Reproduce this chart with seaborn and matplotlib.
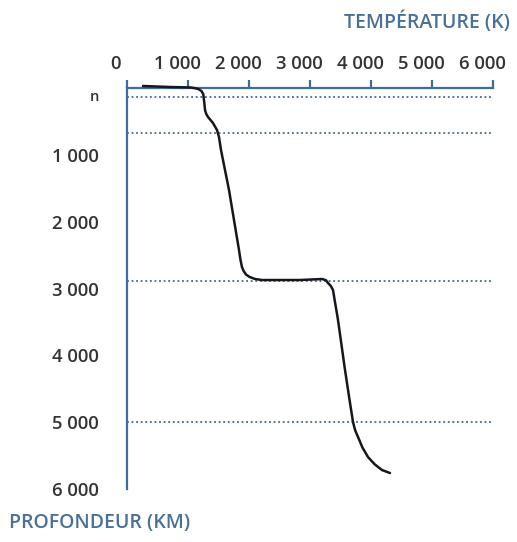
import numpy as np
import pandas as pd
import matplotlib
matplotlib.use("Agg")
import matplotlib.pyplot as plt
import matplotlib.transforms as mtransforms
import seaborn as sns

# Geotherm: temperature (K) against depth (km)
temperature = [262, 705, 1040, 1100, 1170, 1220, 1250, 1262, 1272, 1279, 1300,
               1328, 1370, 1410, 1475, 1508, 1541, 1672, 1836, 1860, 1885,
               1910, 1950, 2010, 2100, 2213, 2836, 3197, 3260, 3295, 3340, 3377,
               3459, 3574, 3656, 3705, 3740, 3787, 3860, 3951, 4060, 4180, 4311]
depth = [-30, -15, -8, 0, 15, 45, 90, 180, 260, 330, 390,
         434, 480, 524, 628, 733, 928, 1526, 2424, 2570, 2680,
         2735, 2790, 2828, 2858, 2873, 2873, 2858, 2875, 2918, 2960, 3023,
         3471, 4220, 4713, 4998, 5120, 5222, 5380, 5522, 5630, 5716, 5761]

# Boundaries between layers (km)
boundaries = [135, 670, 2890, 5000]

x_ticks = [0, 1000, 2000, 3000, 4000, 5000, 6000]
x_labels = ["0", "1 000", "2 000", "3 000", "4 000", "5 000", "6 000"]
y_ticks = [1000, 2000, 3000, 4000, 5000, 6000]
y_labels = ["1 000", "2 000", "3 000", "4 000", "5 000", "6 000"]

x_title = "TEMPÉRATURE (K)"
y_title = "PROFONDEUR (KM)"

sns.set_style("white")
plt.rcParams["font.family"] = ["Open Sans", "DejaVu Sans"]

AXIS = "#3f6d99"
TITLE = "#4a7096"
TEXT = "#333333"

W, H = 517, 542
fig = plt.figure(figsize=(W / 100, H / 100), dpi=100)
ax = fig.add_axes([127 / W, 1 - 489 / H, 366 / W, 401 / H])

df = pd.DataFrame({"temperature": temperature, "depth": depth})
sns.lineplot(data=df, x="temperature", y="depth", sort=False, estimator=None,
             color="#15171c", linewidth=1.8, ax=ax, clip_on=False, zorder=5)
for line in ax.get_lines():
    line.set_solid_joinstyle("round")
    line.set_solid_capstyle("round")

for b in boundaries:
    ax.axhline(b, color="#2e4b72", linewidth=1.1, linestyle=(0, (1.2, 1.8)), zorder=2)

ax.set_xlim(0, 6000)
ax.set_ylim(6000, 0)

ax.xaxis.tick_top()
ax.set_xticks(x_ticks)
ax.set_xticklabels(x_labels)
ax.set_yticks(y_ticks)
ax.set_yticklabels(y_labels)
ax.set_xlabel("")
ax.set_ylabel("")

for s in ["right", "bottom"]:
    ax.spines[s].set_visible(False)
for s in ["left", "top"]:
    ax.spines[s].set_color(AXIS)
    ax.spines[s].set_linewidth(1.6)

ax.tick_params(axis="x", direction="out", length=6, width=1.6, color=AXIS,
               labelsize=13.3, labelcolor=TEXT, pad=5)
ax.tick_params(axis="y", direction="out", length=5, width=1.6, color=AXIS,
               labelsize=13.3, labelcolor=TEXT, pad=15)
for lab in ax.get_xticklabels() + ax.get_yticklabels():
    lab.set_fontweight("semibold")

shift = mtransforms.ScaledTranslation(-11 / 100, 0, fig.dpi_scale_trans)
for lab in ax.get_xticklabels():
    lab.set_transform(lab.get_transform() + shift)

ax.text(-33 / 366 * 6000, boundaries[0], "n", ha="center", va="center",
        fontsize=10.5, color=TEXT, fontweight="semibold")

fig.text(510 / W, 1 - 22 / H, x_title, ha="right", va="center",
         fontsize=14, color=TITLE, fontweight="semibold")
fig.text(9 / W, 1 - 523 / H, y_title, ha="left", va="center",
         fontsize=14, color=TITLE, fontweight="semibold")

fig.savefig("out.png", dpi=100, facecolor="white")
